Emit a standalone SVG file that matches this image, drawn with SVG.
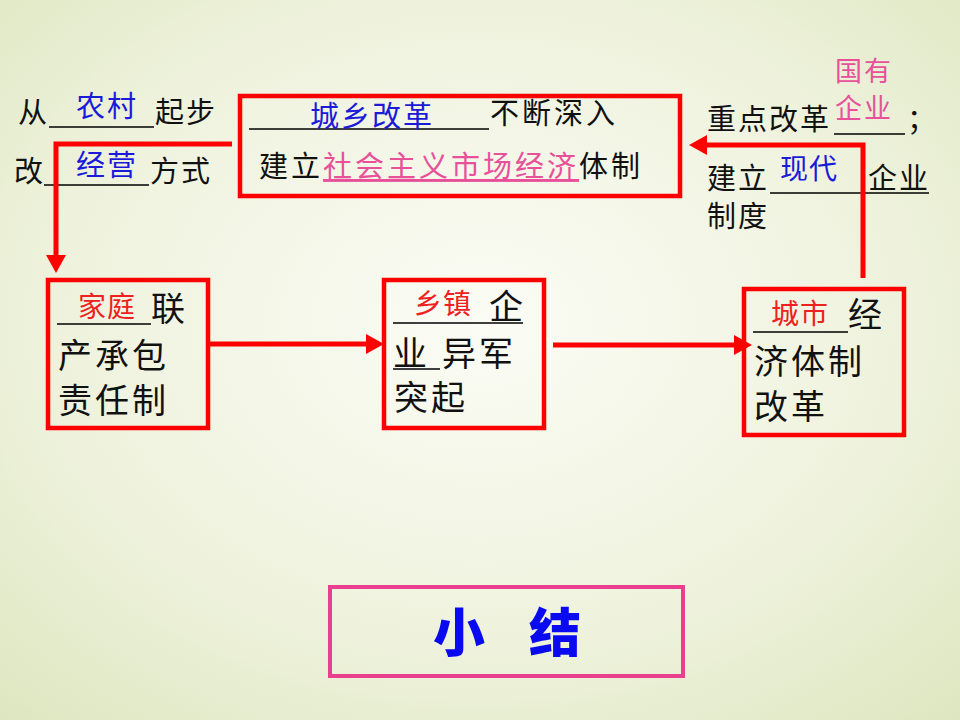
<svg xmlns="http://www.w3.org/2000/svg" width="960" height="720" viewBox="0 0 960 720">
<defs>
<radialGradient id="bg" cx="50%" cy="45%" r="75%">
<stop offset="0" stop-color="#fbfcf5"/>
<stop offset="0.6" stop-color="#eef2dc"/>
<stop offset="1" stop-color="#dde6bf"/>
</radialGradient>
<style>
text{font-family:"Noto Sans CJK SC","Liberation Sans",sans-serif;fill:#111}
.b{fill:#1a1ad8}
.r{fill:#ee2020}
.p{fill:#e8509a}
.box{fill:none;stroke:#ff0000;stroke-width:4.5}
.ul{stroke:#000;stroke-width:1.6}
.con{fill:none;stroke:#ff0000;stroke-width:5}
.t29{font-size:29px;letter-spacing:2px}
.t28{font-size:28px;letter-spacing:1px}
.t34{font-size:34px;letter-spacing:3px}
</style>
</defs>
<rect width="960" height="720" fill="url(#bg)"/>

<g id="left-text" class="t29">
<text x="18" y="123">从</text>
<line class="ul" x1="49" y1="127" x2="154" y2="127"/>
<text class="b" x="76" y="117">农村</text>
<text x="155" y="123">起步</text>
<text x="14" y="182">改</text>
<line class="ul" x1="44" y1="185" x2="149" y2="185"/>
<text class="b" x="76" y="176">经营</text>
<text x="150" y="182">方式</text>
</g>

<g id="top-box">
<rect class="box" x="240" y="96" width="440" height="100"/>
<line class="ul" x1="249" y1="129" x2="489" y2="129"/>
<text class="b t29" x="310" y="127" style="letter-spacing:2px">城乡改革</text>
<text class="t29" x="490" y="124" style="letter-spacing:3px">不断深入</text>
<text class="t29" x="259" y="177" style="letter-spacing:3px">建立<tspan class="p" text-decoration="underline">社会主义市场经济</tspan>体制</text>
</g>

<g id="right-text">
<text class="p" x="835" y="81" style="font-size:27px;letter-spacing:2px">国有</text>
<text class="p" x="835" y="118" style="font-size:27px;letter-spacing:2px">企业</text>
<text class="t29" x="707" y="130">重点改革</text>
<line class="ul" x1="834" y1="134" x2="905" y2="134"/>
<text class="t29" x="907" y="130">；</text>
<text class="t29" x="707" y="189">建立</text>
<text class="b t28" x="780" y="179">现代</text>
<line class="ul" x1="770" y1="193" x2="929" y2="193"/>
<text class="t29" x="868" y="189">企业</text>
<text class="t29" x="707" y="227">制度</text>
</g>

<g id="node-left">
<rect class="box" x="48" y="280" width="160" height="148"/>
<text class="r t28" x="78" y="317">家庭</text>
<line class="ul" x1="57" y1="324" x2="151" y2="324"/>
<text class="t34" x="151" y="321">联</text>
<text class="t34" x="58" y="368">产承包</text>
<text class="t34" x="58" y="413">责任制</text>
</g>

<g id="node-middle">
<rect class="box" x="384" y="280" width="160" height="148"/>
<text class="r t28" x="414" y="314">乡镇</text>
<text class="t34" x="489" y="319">企</text>
<line class="ul" x1="393" y1="323" x2="523" y2="323"/>
<text class="t34" x="393" y="366">业</text>
<line class="ul" x1="393" y1="369" x2="440" y2="369"/>
<text class="t34" x="442" y="366">异军</text>
<text class="t34" x="394" y="410">突起</text>
</g>

<g id="node-right">
<rect class="box" x="744" y="289" width="160" height="146"/>
<text class="r t28" x="771" y="324">城市</text>
<line class="ul" x1="753" y1="332" x2="848" y2="332"/>
<text class="t34" x="848" y="327">经</text>
<text class="t34" x="754" y="374">济体制</text>
<text class="t34" x="754" y="419">改革</text>
</g>

<g id="summary">
<rect x="330" y="587" width="353" height="89" fill="none" stroke="#e8408f" stroke-width="4"/>
<text x="433" y="652" style="font-size:52px;font-weight:900;fill:#0a0af0;letter-spacing:44px">小结</text>
</g>

<g id="connectors">
<polyline class="con" points="232,144 56,144 56,258"/>
<polygon points="46,255 66,255 56,273" fill="#ff0000"/>
<line class="con" x1="210" y1="344" x2="368" y2="344"/>
<polygon points="366,334 366,354 384,344" fill="#ff0000"/>
<line class="con" x1="553" y1="345" x2="736" y2="345"/>
<polygon points="734,335 734,355 752,345" fill="#ff0000"/>
<polyline class="con" points="863,278 863,145 705,145"/>
<polygon points="707,135 707,155 689,145" fill="#ff0000"/>
</g>
</svg>
